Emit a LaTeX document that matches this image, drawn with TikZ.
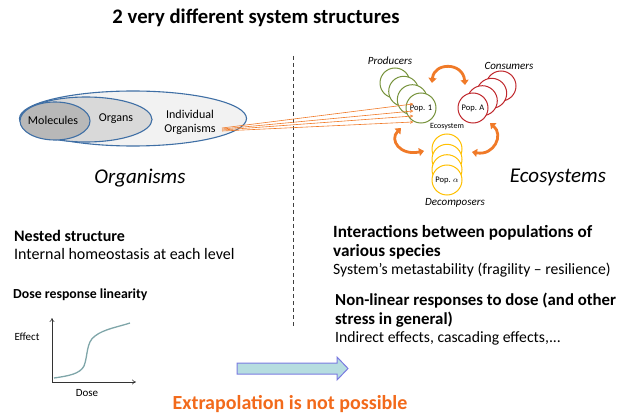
\documentclass[tikz,border=0pt]{standalone}
\usepackage{fontspec}
\setmainfont{Carlito}
\usetikzlibrary{arrows.meta,shapes.geometric}
\definecolor{ellblue}{HTML}{3F6FA5}
\definecolor{gOuter}{HTML}{F2F2F2}
\definecolor{gMid}{HTML}{D9D9D9}
\definecolor{gIn}{HTML}{B8B8B8}
\definecolor{prodgreen}{HTML}{77933C}
\definecolor{consred}{HTML}{C0282D}
\definecolor{decyellow}{HTML}{FFC000}
\definecolor{arrorange}{HTML}{F07A28}
\definecolor{txtorange}{HTML}{F26A1B}
\definecolor{curveteal}{HTML}{7FA6A9}
\definecolor{blockfill}{HTML}{B6DDE0}
\definecolor{blockdraw}{HTML}{7B7BE0}
\tikzset{
  ell/.style={draw=ellblue, line width=1.1pt},
  popc/.style={circle, minimum size=30pt, inner sep=0pt, fill=white, line width=1pt, font=\fontsize{8.5}{9}\selectfont},
  grouplabel/.style={font=\fontsize{11}{13}\selectfont\itshape},
  bigital/.style={font=\fontsize{21}{24}\selectfont\itshape},
  bodybl/.style={anchor=west, align=left, inner sep=0pt, font=\fontsize{16}{19}\selectfont\bfseries},
  bodynl/.style={anchor=west, align=left, inner sep=0pt, font=\fontsize{16}{18}\selectfont},
  bodybr/.style={anchor=west, align=left, inner sep=0pt, font=\fontsize{17.2}{19}\selectfont\bfseries},
  bodynr/.style={anchor=west, align=left, inner sep=0pt, font=\fontsize{15.7}{18}\selectfont},
  feed/.style={draw=arrorange, line width=0.6pt, -{To[length=3pt,width=3pt]}},
  cyc/.style={draw=arrorange, line width=2.8pt, {Triangle[length=5pt,width=8pt]}-{Triangle[length=5pt,width=8pt]}},
  axis/.style={draw=black!80, line width=0.6pt, -{To[length=4pt,width=5pt]}},
}
\begin{document}
\begin{tikzpicture}[x=1pt,y=-1pt]
\useasboundingbox (0,0) rectangle (627,417);
% title
\node[font=\fontsize{20.7}{24}\selectfont\bfseries] (title) at (256,18) {2 very different system structures};
% dashed divider
\coordinate (dtop) at (293,56);
\coordinate (dbot) at (293,327);
\draw[dashed, line width=1pt, black!75, dash pattern=on 4pt off 3pt] (dtop) -- (dbot);
% nested ellipses
\node[ell, ellipse, fill=gOuter, minimum width=227pt, minimum height=55pt] (outer) at (133,118.5) {};
\node[ell, ellipse, fill=gMid, minimum width=132pt, minimum height=45pt] (mid) at (86,119.5) {};
\node[ell, ellipse, fill=gIn, minimum width=70pt, minimum height=38pt] (inner) at (55,121) {};
\node[font=\fontsize{12}{14}\selectfont] (mol) at (53,120) {Molecules};
\node[font=\fontsize{12}{14}\selectfont] (org) at (116,119) {Organs};
\node[font=\fontsize{12}{14}\selectfont, align=center] (ind) at (190,122) {Individual\\Organisms};
\node[bigital] (organisms) at (140,178) {Organisms};
% producers
\foreach \i/\x/\y in {1/395/83, 2/403.7/91.3, 3/412.3/99.7} {
  \node[popc, draw=prodgreen] (prod\i) at (\x,\y) {};
}
\node[popc, draw=prodgreen] (pop1) at (421,108) {Pop. 1};
\node[grouplabel] (producers) at (390,61) {Producers};
% consumers
\foreach \i/\x/\y in {1/501/86, 2/491.7/93.3, 3/482.3/100.7} {
  \node[popc, draw=consred] (cons\i) at (\x,\y) {};
}
\node[popc, draw=consred] (popA) at (473,108) {Pop. A};
\node[grouplabel] (consumers) at (509,66) {Consumers};
% decomposers
\foreach \i/\x/\y in {1/447/149, 2/447/159.3, 3/447/169.7} {
  \node[popc, draw=decyellow] (dec\i) at (\x,\y) {};
}
\node[popc, draw=decyellow] (popa) at (447,180) {Pop. $\alpha$};
\node[grouplabel] (decomposers) at (455,203) {Decomposers};
\node[font=\fontsize{8}{9}\selectfont] (eco) at (447,127) {Ecosystem};
\node[bigital] (ecosystems) at (558,177) {Ecosystems};
% cycle arrows
\coordinate (t1) at (432,83);
\coordinate (t2) at (465,85);
\draw[cyc] (t1) .. controls (434,62) and (463,62) .. (t2);
\coordinate (l1) at (401,128);
\coordinate (l2) at (424,151);
\draw[cyc] (l1) .. controls (389,140) and (400,156) .. (l2);
\coordinate (r1) at (490,123);
\coordinate (r2) at (472,152);
\draw[cyc] (r1) .. controls (504,135) and (494,156) .. (r2);
% feed lines
\coordinate (s1) at (222,128);
\coordinate (s2) at (222,129);
\coordinate (s3) at (222,130);
\coordinate (s4) at (222,131);
\coordinate (e1) at (413,104);
\coordinate (e2) at (413,111);
\coordinate (e3) at (413,116);
\coordinate (e4) at (413,122);
\draw[feed] (s1) -- (e1);
\draw[feed] (s2) -- (e2);
\draw[feed] (s3) -- (e3);
\draw[feed] (s4) -- (e4);
% left texts
\node[bodybl] (nested) at (14,236) {Nested structure};
\node[bodynl] (homeo) at (14,254) {Internal homeostasis at each level};
\node[bodybl, font=\fontsize{13.8}{16}\selectfont\bfseries] (dose) at (13,295) {Dose response linearity};
% graph
\coordinate (origin) at (52,382);
\coordinate (ytop) at (52,318);
\coordinate (xend) at (136,382);
\draw[axis] (origin) -- (ytop);
\draw[axis] (origin) -- (xend);
\node[font=\fontsize{11}{13}\selectfont] (effect) at (27,337) {Effect};
\node[font=\fontsize{11}{13}\selectfont] (doselbl) at (87,393) {Dose};
\draw[curveteal, line width=1.3pt] (54,378) .. controls (68,376) and (80,374) .. (84,366)
  .. controls (88,356) and (86,342) .. (95,336) .. controls (104,329) and (118,327) .. (130,323);
% right texts
\node[bodybr] (inter) at (333,242) {Interactions between populations of\\various species};
\node[bodynr] (meta) at (333,270) {System’s metastability (fragility – resilience)};
\node[bodybr, font=\fontsize{16.8}{19}\selectfont\bfseries] (nonlin) at (335,310) {Non-linear responses to dose (and other\\stress in general)};
\node[bodynr] (indirect) at (335,338) {Indirect effects, cascading effects,...};
% block arrow
\draw[fill=blockfill, draw=blockdraw, line width=1pt] (237,363) -- (337,363) -- (337,357) -- (348,368.5) -- (337,380) -- (337,374) -- (237,374) -- cycle;
% conclusion
\node[font=\fontsize{20}{23}\selectfont\bfseries, text=txtorange] (extra) at (290,404) {Extrapolation is not possible};
\end{tikzpicture}
\end{document}
